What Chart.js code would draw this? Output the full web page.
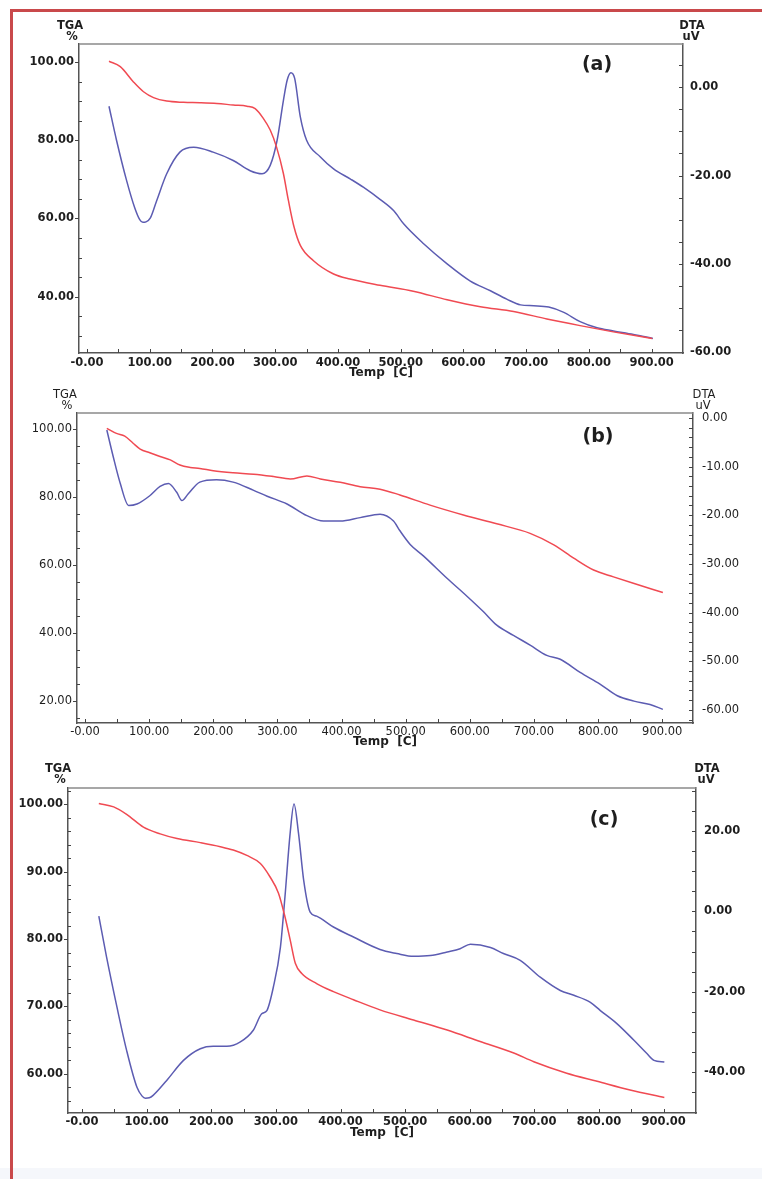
<!DOCTYPE html>
<html>
<head>
<meta charset="utf-8">
<title>TGA / DTA</title>
<script src="https://cdn.jsdelivr.net/npm/chart.js@4.4.1/dist/chart.umd.min.js"></script>
<style>
  html, body { margin: 0; padding: 0; background: #fff; }
  body { width: 762px; height: 1179px; position: relative; overflow: hidden; }
  canvas { position: absolute; }
  #frame {
    position: absolute; left: 10px; top: 9px; width: 760px; height: 1180px;
    border-top: 3px solid #c9494b; border-left: 3px solid #c9494b;
  }
  #band { position: absolute; left: 0; top: 1168px; width: 762px; height: 11px; background: #f5f7fb; }
</style>
</head>
<body>
<div id="band"></div>
<canvas id="chartA" width="736" height="366" style="left:14px;top:14px"></canvas>
<canvas id="chartB" width="736" height="368" style="left:14px;top:381px"></canvas>
<canvas id="chartC" width="736" height="391" style="left:14px;top:749px"></canvas>
<div id="frame"></div>

<script>
// ---- data ----
// (a)
const tempTgaA = [35, 53, 74, 90, 106, 127, 154, 180, 207, 233, 255, 268, 281, 292, 302, 313, 321, 330, 340, 361, 393, 419, 467, 520, 574, 627, 680, 733, 786, 839, 901];
const tgaA = [100.2, 98.8, 94.9, 92.4, 90.9, 90.0, 89.7, 89.6, 89.4, 89.0, 88.7, 88.1, 85.6, 82.6, 78.3, 71.5, 64.6, 57.8, 53.1, 49.2, 45.8, 44.5, 42.9, 41.4, 39.2, 37.4, 36.2, 34.3, 32.6, 31.0, 29.3];
const tempDtaA = [35, 47, 63, 76, 84, 89, 94, 101, 111, 127, 148, 170, 201, 233, 260, 279, 292, 303, 313, 319, 325, 331, 340, 350, 372, 393, 420, 441, 467, 489, 505, 537, 574, 611, 643, 669, 691, 712, 736, 760, 786, 813, 839, 871, 902];
const dtaA = [-4.3, -12, -21.1, -27.3, -30.0, -30.6, -30.5, -29.6, -25.7, -19.6, -14.7, -13.6, -14.7, -16.6, -18.9, -19.6, -17.7, -12, -3, 1.6, 3.3, 2.0, -6.7, -12, -15.8, -18.5, -20.8, -22.7, -25.4, -28, -31, -35.5, -40, -43.9, -46.1, -48, -49.3, -49.5, -49.8, -51, -53.1, -54.5, -55.2, -56, -56.9];

// (b)
const tempTgaB = [34, 49, 62, 75, 86, 101, 117, 133, 148, 164, 179, 200, 231, 263, 294, 320, 346, 367, 398, 429, 460, 491, 538, 590, 642, 694, 731, 762, 793, 824, 855, 901];
const tgaB = [100.2, 98.7, 97.9, 95.8, 94.1, 93.0, 91.9, 90.9, 89.4, 88.7, 88.4, 87.7, 87.1, 86.7, 86.0, 85.3, 86.2, 85.3, 84.3, 83.0, 82.3, 80.6, 77.6, 74.7, 72.1, 69.3, 65.9, 62.0, 58.5, 56.5, 54.6, 51.9];
const tempDtaB = [34, 44, 55, 68, 81, 101, 117, 130, 143, 151, 161, 179, 205, 231, 263, 284, 315, 346, 372, 398, 429, 460, 481, 491, 507, 528, 564, 596, 621, 642, 668, 694, 720, 741, 772, 803, 830, 856, 881, 901];
const dtaB = [-2.5, -8, -13.5, -18, -17.7, -16, -14.1, -13.5, -15.3, -17, -15.6, -13.2, -12.7, -13.2, -14.9, -16.1, -17.7, -20.1, -21.2, -21.2, -20.5, -19.8, -21.2, -23.2, -26, -28.4, -32.9, -36.7, -39.8, -42.6, -44.7, -46.7, -48.8, -49.6, -52.3, -54.7, -57.1, -58.2, -58.9, -59.9];

// (c)
const tempTgaC = [26, 49, 69, 95, 121, 147, 183, 214, 234, 255, 276, 291, 304, 314, 322, 330, 340, 363, 389, 420, 461, 513, 565, 616, 668, 699, 750, 797, 848, 901];
const tgaC = [100.1, 99.6, 98.5, 96.6, 95.6, 94.9, 94.3, 93.7, 93.2, 92.4, 91.2, 89.2, 86.8, 83.3, 79.9, 76.4, 74.9, 73.4, 72.2, 71.0, 69.5, 68.0, 66.5, 64.8, 63.1, 61.8, 60.1, 58.9, 57.6, 56.5];
const tempDtaC = [26, 38, 54, 69, 85, 93, 98, 104, 110, 131, 157, 183, 203, 224, 245, 265, 278, 286, 296, 307, 314, 322, 328, 335, 343, 353, 363, 389, 420, 461, 487, 513, 539, 565, 585, 601, 632, 652, 678, 709, 740, 761, 786, 802, 828, 854, 874, 885, 901];
const dtaC = [-1.2, -11.4, -23.8, -34.6, -43.8, -46.0, -46.5, -46.4, -45.8, -42.1, -37.1, -34.2, -33.6, -33.6, -32.5, -29.6, -25.5, -24.7, -18.9, -8.9, 3.6, 19.4, 26.7, 19.4, 7.7, -0.2, -1.2, -3.9, -6.4, -9.5, -10.5, -11.2, -11.0, -10.1, -9.3, -8.2, -9.0, -10.5, -12.2, -16.4, -19.7, -20.9, -22.6, -24.7, -28.0, -32.1, -35.4, -37.1, -37.5];

// labelled ticks
const tempLabels = [0, 100, 200, 300, 400, 500, 600, 700, 800, 900];
const tgaLabelsA = [40, 60, 80, 100];
const dtaLabelsA = [0, -20, -40, -60];
const tgaLabelsB = [20, 40, 60, 80, 100];
const dtaLabelsB = [0, -10, -20, -30, -40, -50, -60];
const tgaLabelsC = [60, 70, 80, 90, 100];
const dtaLabelsC = [20, 0, -20, -40];

const RED = '#f04a52';
const BLUE = '#5c5cb2';
const INK = '#1e1e1e';

const pts = (xs, ys) => xs.map((x, i) => ({ x: x, y: ys[i] }));

// minor tick marks every `step`, labels only on the listed values
function stepTicks(step) {
    return scale => {
        const out = [];
        let v = Math.ceil(scale.min / step - 1e-9) * step;
        for (; v <= scale.max + 1e-9; v += step) {
            out.push({ value: Math.round(v * 1000) / 1000 });
        }
        scale.ticks = out;
    };
}

function labelOn(list, zeroText) {
    return v => {
        if (!list.includes(v)) return '';
        if (v === 0) return zeroText;
        return v.toFixed(2);
    };
}

// frame top line, tick marks, corner texts
const panelDeco = {
    id: 'panelDeco',
    afterDraw(chart, args, o) {
        const ctx = chart.ctx;
        const a = chart.chartArea;
        const sx = chart.scales.x, sl = chart.scales.yTga, sr = chart.scales.yDta;
        ctx.save();
        ctx.strokeStyle = '#8a8a8a';
        ctx.lineWidth = 1.5;
        ctx.beginPath();
        ctx.moveTo(a.left, a.top);
        ctx.lineTo(a.right, a.top);
        ctx.stroke();

        ctx.strokeStyle = '#444';
        ctx.lineWidth = 1;
        ctx.beginPath();
        sx.ticks.forEach(t => {
            const p = Math.round(sx.getPixelForValue(t.value)) + 0.5;
            if (p <= a.left + 1 || p >= a.right - 1) return;
            ctx.moveTo(p, a.bottom);
            ctx.lineTo(p, a.bottom - 4);
        });
        sl.ticks.forEach(t => {
            const p = Math.round(sl.getPixelForValue(t.value)) + 0.5;
            if (p <= a.top + 1 || p >= a.bottom - 1) return;
            if (o.tgaLabels.includes(t.value)) {
                ctx.moveTo(a.left - 4, p);
                ctx.lineTo(a.left, p);
            } else {
                ctx.moveTo(a.left, p);
                ctx.lineTo(a.left + 3, p);
            }
        });
        sr.ticks.forEach(t => {
            const p = Math.round(sr.getPixelForValue(t.value)) + 0.5;
            if (p <= a.top + 1 || p >= a.bottom - 1) return;
            ctx.moveTo(a.right, p);
            ctx.lineTo(a.right - 4, p);
        });
        ctx.stroke();

        ctx.fillStyle = INK;
        ctx.textAlign = 'center';
        ctx.textBaseline = 'middle';
        ctx.font = o.weight + ' 11.5px "DejaVu Sans"';
        ctx.fillText('TGA', a.left + o.tga[0], a.top + o.tga[1]);
        ctx.fillText('%', a.left + o.tga[0] + 2, a.top + o.tga[1] + 11);
        ctx.fillText('DTA', a.right + o.dta[0], a.top + o.dta[1]);
        ctx.fillText('uV', a.right + o.dta[0] - 1, a.top + o.dta[1] + 11);
        ctx.font = 'bold 19px "DejaVu Sans"';
        ctx.fillText(o.letter, a.right + o.tag[0], a.top + o.tag[1]);
        ctx.restore();
    }
};

function makePanel(id, p) {
    const tickFont = { family: 'DejaVu Sans', size: 11.5, weight: p.weight };
    return new Chart(document.getElementById(id), {
        type: 'line',
        data: {
            datasets: [
                {
                    data: pts(p.tgaT, p.tga), yAxisID: 'yTga',
                    borderColor: RED, borderWidth: 1.5, pointRadius: 0,
                    cubicInterpolationMode: 'monotone', fill: false
                },
                {
                    data: pts(p.dtaT, p.dta), yAxisID: 'yDta',
                    borderColor: BLUE, borderWidth: 1.5, pointRadius: 0,
                    cubicInterpolationMode: 'monotone', fill: false
                }
            ]
        },
        options: {
            responsive: false,
            animation: false,
            events: [],
            layout: { padding: { top: p.padTop, left: 0, right: 0, bottom: 0 } },
            plugins: {
                legend: { display: false },
                tooltip: { enabled: false },
                panelDeco: {
                    letter: p.letter, weight: p.weight, tgaLabels: p.tgaLabels,
                    tga: p.tgaPos, dta: p.dtaPos, tag: p.tagPos
                }
            },
            scales: {
                x: {
                    type: 'linear', min: p.xMin, max: p.xMax,
                    afterBuildTicks: stepTicks(50),
                    afterFit: s => { s.height = p.xH; },
                    grid: { display: false, drawTicks: false },
                    border: { display: true, color: '#555', width: 1.5 },
                    ticks: {
                        autoSkip: false, maxRotation: 0, minRotation: 0,
                        padding: p.xPad, color: INK, font: tickFont,
                        callback: labelOn(tempLabels, '-0.00')
                    },
                    title: {
                        display: true, text: 'Temp  [C]', color: INK,
                        font: { family: 'DejaVu Sans', size: 12, weight: 'bold' },
                        padding: 0
                    }
                },
                yTga: {
                    type: 'linear', position: 'left', min: p.tgaMin, max: p.tgaMax,
                    afterBuildTicks: stepTicks(p.tgaStep),
                    afterFit: s => { s.width = p.leftW; },
                    grid: { display: false, drawTicks: false },
                    border: { display: true, color: '#555', width: 1.5 },
                    ticks: {
                        autoSkip: false, padding: p.leftPad, color: INK, font: tickFont,
                        callback: labelOn(p.tgaLabels, '0.00')
                    }
                },
                yDta: {
                    type: 'linear', position: 'right', min: p.dtaMin, max: p.dtaMax,
                    afterBuildTicks: stepTicks(p.dtaStep),
                    afterFit: s => { s.width = p.rightW; },
                    grid: { display: false, drawTicks: false },
                    border: { display: true, color: '#555', width: 1.5 },
                    ticks: {
                        autoSkip: false, padding: p.rightPad, color: INK, font: tickFont,
                        callback: labelOn(p.dtaLabels, '0.00')
                    }
                }
            }
        },
        plugins: [panelDeco]
    });
}

makePanel('chartA', {
    letter: '(a)', weight: 'bold',
    tgaT: tempTgaA, tga: tgaA, dtaT: tempDtaA, dta: dtaA,
    tgaLabels: tgaLabelsA, dtaLabels: dtaLabelsA,
    xMin: -12.8, xMax: 950, tgaMin: 25.6, tgaMax: 104.6, tgaStep: 5,
    dtaMin: -60.2, dtaMax: 9.8, dtaStep: 5,
    padTop: 30, leftW: 65, rightW: 67, xH: 27,
    xPad: 3, leftPad: 5, rightPad: 7,
    tgaPos: [-9, -18], dtaPos: [9, -18], tagPos: [-86, 21]
});

makePanel('chartB', {
    letter: '(b)', weight: 'normal',
    tgaT: tempTgaB, tga: tgaB, dtaT: tempDtaB, dta: dtaB,
    tgaLabels: tgaLabelsB, dtaLabels: dtaLabelsB,
    xMin: -12.5, xMax: 948, tgaMin: 13.5, tgaMax: 104.7, tgaStep: 5,
    dtaMin: -62.7, dtaMax: 1.0, dtaStep: 2,
    padTop: 32, leftW: 63, rightW: 57, xH: 26,
    xPad: 2, leftPad: 5, rightPad: 9,
    tgaPos: [-12, -18], dtaPos: [11, -18], tagPos: [-95, 24]
});

makePanel('chartC', {
    letter: '(c)', weight: 'bold',
    tgaT: tempTgaC, tga: tgaC, dtaT: tempDtaC, dta: dtaC,
    tgaLabels: tgaLabelsC, dtaLabels: dtaLabelsC,
    xMin: -21.7, xMax: 950, tgaMin: 54.2, tgaMax: 102.4, tgaStep: 2,
    dtaMin: -50.2, dtaMax: 30.7, dtaStep: 5,
    padTop: 39, leftW: 54, rightW: 54, xH: 27,
    xPad: 2, leftPad: 5, rightPad: 8,
    tgaPos: [-10, -19], dtaPos: [11, -19], tagPos: [-92, 32]
});
</script>
</body>
</html>
